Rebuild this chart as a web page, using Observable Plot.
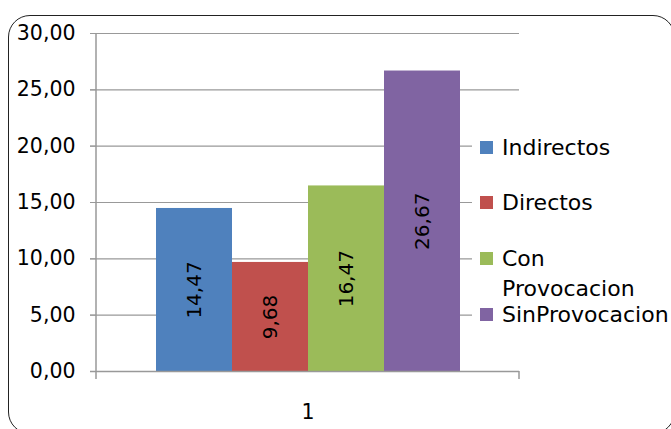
<!DOCTYPE html>
<html>
<head>
<meta charset="utf-8">
<script src="https://cdn.jsdelivr.net/npm/d3@7"></script>
<script src="https://cdn.jsdelivr.net/npm/@observablehq/plot@0.6"></script>
<style>
  html, body { margin: 0; padding: 0; background: #fff; overflow: hidden; }
  #wrap { position: relative; width: 671px; height: 429px; overflow: hidden; font-family: "DejaVu Sans", sans-serif; }
  #chart { position: absolute; left: 0; top: 0; }
  #border {
    position: absolute; left: 8px; top: 15px; width: 665px; height: 417px;
    border: 1.5px solid #222; border-radius: 22px; pointer-events: none;
  }
  #legend {
    position: absolute; left: 472px; top: 118px; width: 199px; height: 215px;
    background: #fff;
  }
  .item { position: absolute; left: 8px; width: 160px; font-size: 22px; line-height: 30px; color: #000; }
  .swatch { position: absolute; left: 0; top: 8px; width: 13px; height: 13px; }
  .label { margin-left: 22px; white-space: normal; }
  .label.nowrap { white-space: nowrap; }
</style>
</head>
<body>
<div id="wrap">
  <div id="chart"></div>
  <div id="legend"></div>
  <div id="border"></div>
</div>
<script>
// Series shown for the single category "1"
const category = "1";
const series = ["Indirectos", "Directos", "Con Provocacion", "SinProvocacion"];
const values = [14.47, 9.68, 16.47, 26.67];
const colors = ["#4F81BD", "#C0504D", "#9BBB59", "#8064A2"];
const yTicks = [0, 5, 10, 15, 20, 25, 30];

const data = series.map((s, i) => ({series: s, value: values[i]}));
const fmt = v => v.toFixed(2).replace(".", ",");

// Vertical axis line plus small ticks at the two edges of the category band
function axisLines() {
  return (index, scales, values, dims) => {
    const g = d3.create("svg:g").attr("stroke", "#999").attr("stroke-width", 1.5);
    const y0 = dims.height - dims.marginBottom;
    const left = dims.marginLeft;
    g.append("line").attr("x1", left).attr("x2", left).attr("y1", dims.marginTop).attr("y2", y0);
    for (const x of [left, dims.width - dims.marginRight]) {
      g.append("line").attr("x1", x).attr("x2", x).attr("y1", y0).attr("y2", y0 + 8);
    }
    return g.node();
  };
}

const chart = Plot.plot({
  width: 671,
  height: 429,
  marginLeft: 96,
  marginRight: 152,
  marginTop: 33,
  marginBottom: 58,
  style: {background: "transparent", fontFamily: "DejaVu Sans, sans-serif", color: "#000"},
  x: {domain: series, paddingInner: 0, paddingOuter: 0.747, axis: null},
  y: {domain: [0, 30], axis: null},
  color: {domain: series, range: colors},
  marks: [
    Plot.gridY(yTicks, {stroke: "#999", strokeOpacity: 1, strokeWidth: 1.2, insetLeft: -6}),
    Plot.axisY({
      ticks: yTicks, tickFormat: fmt, tickSize: 6, tickPadding: 15,
      fontSize: 20.5, stroke: "#999", strokeOpacity: 1, label: null
    }),
    Plot.barY(data, {x: "series", y: "value", fill: "series"}),
    Plot.text(data, {
      x: "series", y: d => d.value / 2, text: d => fmt(d.value),
      rotate: -90, fontSize: 20, fill: "#000"
    }),
    Plot.ruleY([0], {stroke: "#999", strokeWidth: 1.5, insetLeft: -6}),
    axisLines(),
    Plot.text([category], {
      frameAnchor: "bottom", text: d => d, fontSize: 20.5, fill: "#000",
      lineAnchor: "middle", dy: 41
    })
  ]
});
document.getElementById("chart").append(chart);

// Legend entries
const legend = document.getElementById("legend");
const itemTops = [15, 70, 126, 182];
series.forEach((s, i) => {
  const item = document.createElement("div");
  item.className = "item";
  item.style.top = itemTops[i] + "px";
  const sw = document.createElement("div");
  sw.className = "swatch";
  sw.style.background = colors[i];
  const lab = document.createElement("div");
  lab.className = "label" + (s.includes(" ") ? "" : " nowrap");
  lab.textContent = s;
  item.append(sw, lab);
  legend.append(item);
});
</script>
</body>
</html>
